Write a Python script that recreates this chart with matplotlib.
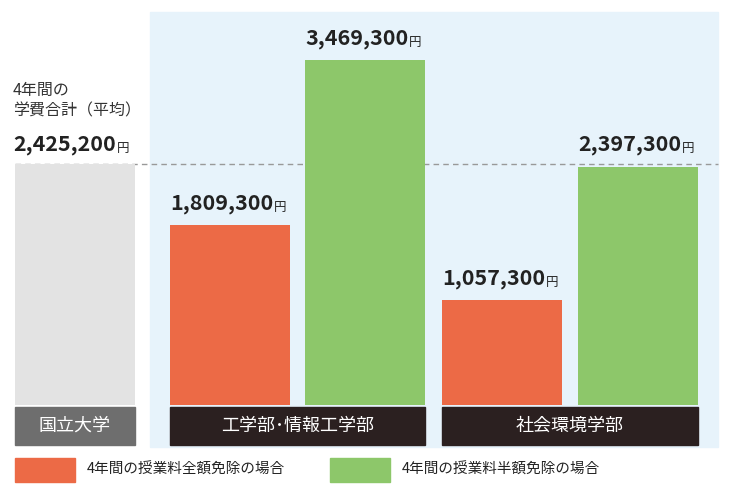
import matplotlib.pyplot as plt
from matplotlib.patches import Rectangle

plt.rcParams['font.family'] = 'Noto Sans CJK JP'

groups = ['工学部･情報工学部', '社会環境学部']
full_exempt = [1809300, 1057300]
half_exempt = [3469300, 2397300]
national_avg = 2425200
legend_labels = ['4年間の授業料全額免除の場合', '4年間の授業料半額免除の場合']

ORANGE = '#ec6a46'
GREEN = '#8dc76a'
GREY = '#e3e3e3'
DARK = '#2b2020'
W, H = 730, 500

fig = plt.figure(figsize=(7.3, 5), dpi=100)
fig.patches.append(Rectangle((150 / W, 53 / H), 568 / W, 435 / H,
                             transform=fig.transFigure, color='#e7f3fb', zorder=0))

ax = fig.add_axes([0, 95 / H, 1, 393 / H])
ax.set_zorder(1)
ax.set_xlim(0, W)
ax.set_ylim(0, half_exempt[0] * 393 / 345)
ax.axis('off')
ax.patch.set_alpha(0)

bw = 120
ax.bar(75, national_avg, bw, color=GREY)
of_centers = [230, 502]
gr_centers = [365, 638]
ax.bar(of_centers, full_exempt, bw, color=ORANGE)
ax.bar(gr_centers, half_exempt, bw, color=GREEN)
ax.axhline(national_avg, xmin=15 / W, xmax=718 / W, color='#999999',
           ls=(0, (4, 3)), lw=1, zorder=0.5)

fig.canvas.draw()
r = fig.canvas.get_renderer()


def value_label(x, v, y_off=8, size=15.5, ha='center'):
    t = ax.annotate(f'{v:,}', (x, v), xytext=(-6 if ha == 'center' else 0, y_off),
                    textcoords='offset points', ha=ha, va='bottom',
                    fontsize=size, fontweight='bold', color='#222222')
    bb = t.get_window_extent(r)
    x1, y0 = ax.transData.inverted().transform((bb.x1, bb.y0))
    ax.text(x1 + 1, y0, '円', fontsize=9, color='#222222',
            va='bottom', transform=ax.transData)


for c, v in zip(of_centers, full_exempt):
    value_label(c, v)
for c, v in zip(gr_centers, half_exempt):
    value_label(c, v)
value_label(13, national_avg, y_off=6, ha='left')
ax.annotate('4年間の\n学費合計（平均）', (13, national_avg), xytext=(0, 32),
            textcoords='offset points', ha='left', va='bottom',
            fontsize=11.5, color='#333333', linespacing=1.3)

# category boxes under the bars
def label_box(x0, x1, text, color):
    fig.patches.append(Rectangle((x0 / W, 55 / H), (x1 - x0) / W, 38 / H,
                                 transform=fig.transFigure, color=color, zorder=2))
    fig.text((x0 + x1) / 2 / W, 74 / H, text, ha='center', va='center',
             color='white', fontsize=13, zorder=3)

label_box(15, 135, '国立大学', '#6e6e6e')
label_box(170, 425, groups[0], DARK)
label_box(442, 698, groups[1], DARK)

# legend
for x0, col, lab in [(15, ORANGE, legend_labels[0]), (330, GREEN, legend_labels[1])]:
    fig.patches.append(Rectangle((x0 / W, 18 / H), 60 / W, 24 / H,
                                 transform=fig.transFigure, color=col))
    fig.text((x0 + 72) / W, 30 / H, lab, va='center', fontsize=10.5, color='#222222')

fig.savefig('out.png', dpi=100)
